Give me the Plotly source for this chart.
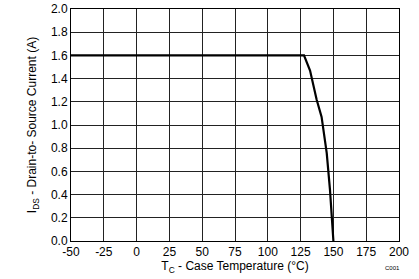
import plotly.graph_objects as go

temp_c = [-50, 127.6, 132.2, 137.2, 141.0, 144.9, 147.4, 150.0]
current_a = [1.6, 1.6, 1.47, 1.22, 1.07, 0.76, 0.44, 0.0]

x_ticks = [-50, -25, 0, 25, 50, 75, 100, 125, 150, 175, 200]
y_ticks = [0.0, 0.2, 0.4, 0.6, 0.8, 1.0, 1.2, 1.4, 1.6, 1.8, 2.0]

fig = go.Figure()
fig.add_trace(go.Scatter(x=temp_c, y=current_a, mode="lines",
                         line=dict(color="black", width=2.2), showlegend=False))

font = dict(family="Liberation Sans, Arial, sans-serif", size=12, color="black")

fig.update_layout(
    template="none",
    width=419, height=279,
    margin=dict(l=71, r=20, t=9, b=38),
    paper_bgcolor="white", plot_bgcolor="white",
    font=font,
    xaxis=dict(range=[-50, 200], tickmode="array", tickvals=x_ticks,
               ticktext=[str(v) for v in x_ticks],
               showgrid=True, gridcolor="#222222", gridwidth=1,
               showline=True, linecolor="black", linewidth=1, mirror=True,
               zeroline=False, ticks="", tickfont=font,
               title=dict(text="T<sub>C</sub> - Case Temperature (°C)", font=font, standoff=0)),
    yaxis=dict(range=[0, 2.0], tickmode="array", tickvals=y_ticks,
               ticktext=[f"{v:.1f}" for v in y_ticks],
               showgrid=True, gridcolor="#222222", gridwidth=1,
               showline=True, linecolor="black", linewidth=1, mirror=True,
               zeroline=False, ticks="", tickfont=font,
               title=dict(text="I<sub>DS</sub> - Drain-to- Source Current (A)", font=font, standoff=11)),
)

fig.add_annotation(text="C001", x=1.0, y=0, xref="paper", yref="paper",
                   xanchor="left", yanchor="top", xshift=-16, yshift=-22,
                   showarrow=False, font=dict(family="Liberation Sans, Arial, sans-serif", size=6, color="black"))

fig.write_html("out.html")
